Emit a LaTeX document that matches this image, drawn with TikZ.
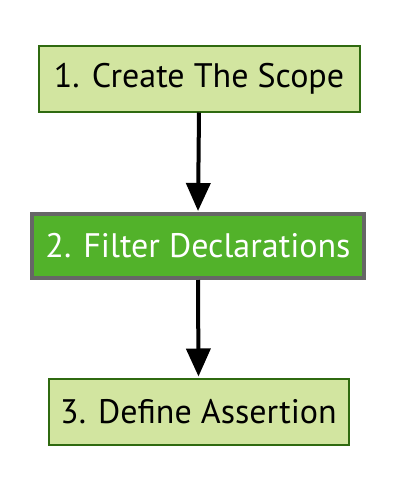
\documentclass[tikz,border=0pt]{standalone}
\usepackage{fontspec}
\setmainfont{PT Sans}
\usetikzlibrary{arrows.meta}
\definecolor{lightfill}{HTML}{D2E5A0}
\definecolor{darkborder}{HTML}{2F6A10}
\definecolor{midfill}{HTML}{52B22A}
\definecolor{grayborder}{HTML}{666666}
\tikzset{
  x=1pt, y=-1pt,
  lightbox/.style={draw=darkborder, fill=lightfill, line width=2pt, inner sep=0pt, font=\fontsize{34}{40}\selectfont},
  activebox/.style={draw=grayborder, fill=midfill, line width=4pt, inner sep=0pt, text=white, font=\fontsize{34}{40}\selectfont},
  flow/.style={line width=4pt, -{Triangle[length=28pt, width=24pt]}, shorten >=1pt}
}
\begin{document}
\begin{tikzpicture}
\useasboundingbox (0,0) rectangle (410,480);
\node[lightbox, minimum width=321pt, minimum height=66pt] (n1) at (199,78.5) {1. Create The Scope};
\node[activebox, minimum width=332pt, minimum height=64pt] (n2) at (198,246) {2. Filter Declarations};
\node[lightbox, minimum width=300pt, minimum height=66pt] (n3) at (198.5,411.5) {3. Define Assertion};
\draw[flow] (n1.south) -- (n2.north);
\draw[flow] (n2.south) -- (n3.north);
\end{tikzpicture}
\end{document}
